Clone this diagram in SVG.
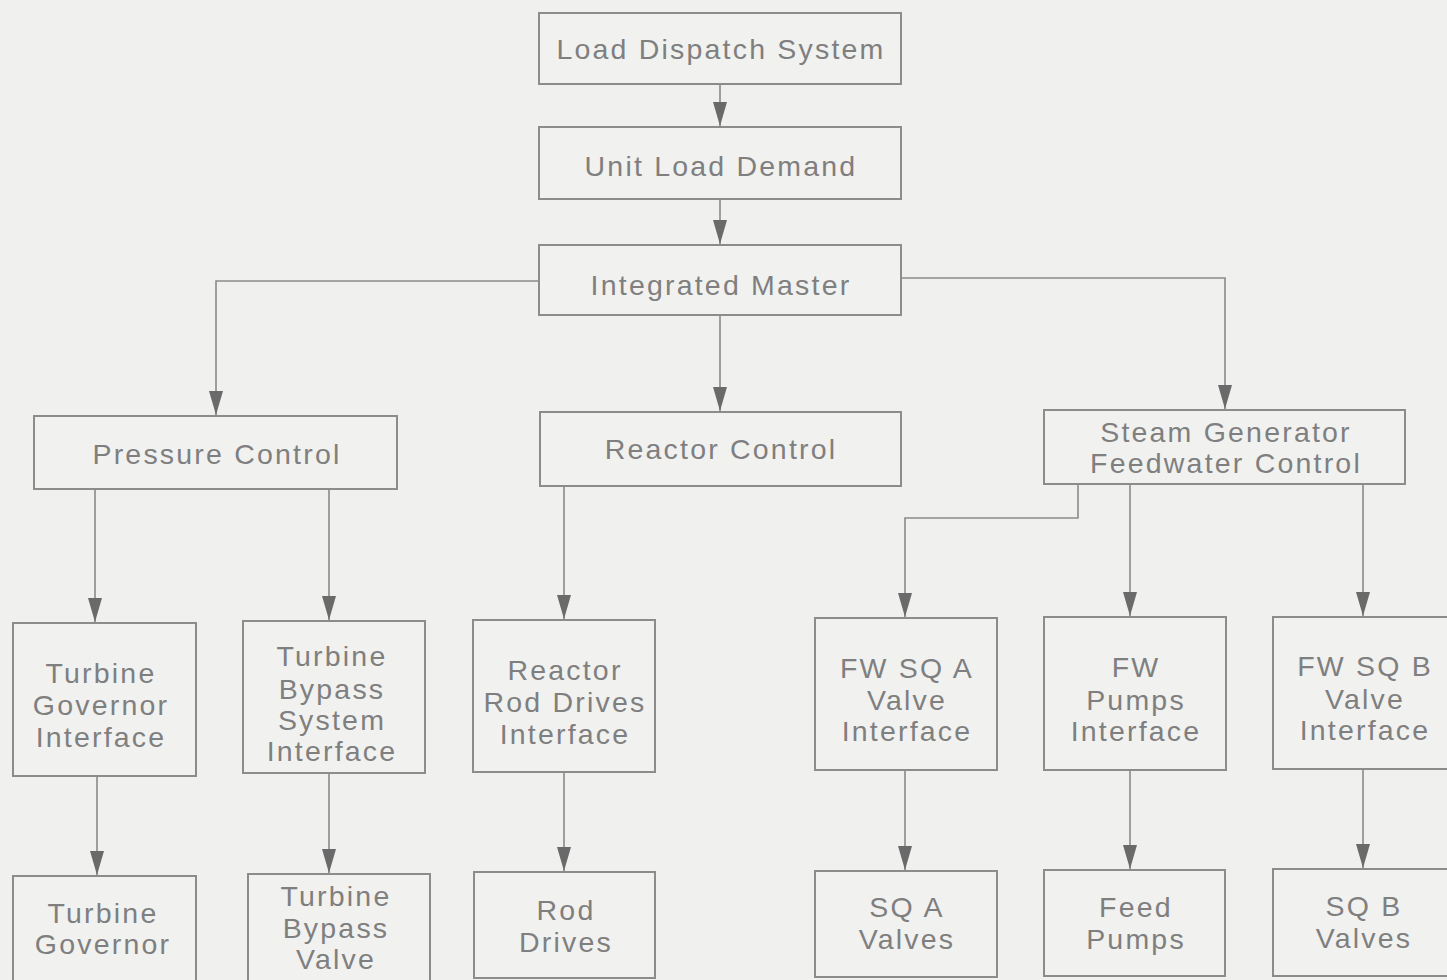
<svg xmlns="http://www.w3.org/2000/svg" width="1447" height="980" viewBox="0 0 1447 980">
<defs>
<style>
.box{fill:#f1f1f0;stroke:#8c8c8c;stroke-width:2}
.lbl{font-family:"Liberation Sans",Arial,sans-serif;font-size:28.5px;letter-spacing:2.2px;fill:#7f7f7f;text-anchor:middle}
.con{fill:none;stroke:#8a8a8a;stroke-width:1.6}
</style>
<marker id="ah" markerWidth="24" markerHeight="14" refX="24" refY="7" orient="auto" markerUnits="userSpaceOnUse" viewBox="0 0 24 14">
<path d="M0,0 L24,7 L0,14 Z" fill="#6a6a6a"/>
</marker>
</defs>
<rect width="1447" height="980" fill="#f0f0ef"/>
<g id="connectors">
<path class="con" d="M720,84 V126" marker-end="url(#ah)"/>
<path class="con" d="M720,199 V244" marker-end="url(#ah)"/>
<path class="con" d="M720,315 V411" marker-end="url(#ah)"/>
<path class="con" d="M539,281 H216 V415" marker-end="url(#ah)"/>
<path class="con" d="M901,278 H1225 V409" marker-end="url(#ah)"/>
<path class="con" d="M95,489 V622" marker-end="url(#ah)"/>
<path class="con" d="M329,489 V620" marker-end="url(#ah)"/>
<path class="con" d="M564,486 V619" marker-end="url(#ah)"/>
<path class="con" d="M1078,484 V518 H905 V617" marker-end="url(#ah)"/>
<path class="con" d="M1130,484 V616" marker-end="url(#ah)"/>
<path class="con" d="M1363,484 V616" marker-end="url(#ah)"/>
<path class="con" d="M97,776 V875" marker-end="url(#ah)"/>
<path class="con" d="M329,773 V873" marker-end="url(#ah)"/>
<path class="con" d="M564,772 V871" marker-end="url(#ah)"/>
<path class="con" d="M905,770 V870" marker-end="url(#ah)"/>
<path class="con" d="M1130,770 V869" marker-end="url(#ah)"/>
<path class="con" d="M1363,769 V868" marker-end="url(#ah)"/>
</g>
<g id="load-dispatch"><rect class="box" x="539" y="13" width="362" height="71"/><text class="lbl" x="721" y="59">Load Dispatch System</text></g>
<g id="unit-load-demand"><rect class="box" x="539" y="127" width="362" height="72"/><text class="lbl" x="721" y="176">Unit Load Demand</text></g>
<g id="integrated-master"><rect class="box" x="539" y="245" width="362" height="70"/><text class="lbl" x="721" y="295">Integrated Master</text></g>
<g id="pressure-control"><rect class="box" x="34" y="416" width="363" height="73"/><text class="lbl" x="217" y="464">Pressure Control</text></g>
<g id="reactor-control"><rect class="box" x="540" y="412" width="361" height="74"/><text class="lbl" x="721" y="459">Reactor Control</text></g>
<g id="sg-feedwater-control"><rect class="box" x="1044" y="410" width="361" height="74"/><text class="lbl" x="1226" y="442">Steam Generator</text><text class="lbl" x="1226" y="473">Feedwater Control</text></g>
<g id="turbine-governor-interface"><rect class="box" x="13" y="623" width="183" height="153"/><text class="lbl" x="101" y="683">Turbine</text><text class="lbl" x="101" y="715">Governor</text><text class="lbl" x="101" y="747">Interface</text></g>
<g id="turbine-bypass-interface"><rect class="box" x="243" y="621" width="182" height="152"/><text class="lbl" x="332" y="666">Turbine</text><text class="lbl" x="332" y="699">Bypass</text><text class="lbl" x="332" y="730">System</text><text class="lbl" x="332" y="761">Interface</text></g>
<g id="reactor-rod-drives-interface"><rect class="box" x="473" y="620" width="182" height="152"/><text class="lbl" x="565" y="680">Reactor</text><text class="lbl" x="565" y="712">Rod Drives</text><text class="lbl" x="565" y="744">Interface</text></g>
<g id="fw-sq-a-interface"><rect class="box" x="815" y="618" width="182" height="152"/><text class="lbl" x="907" y="678">FW SQ A</text><text class="lbl" x="907" y="710">Valve</text><text class="lbl" x="907" y="741">Interface</text></g>
<g id="fw-pumps-interface"><rect class="box" x="1044" y="617" width="182" height="153"/><text class="lbl" x="1136" y="677">FW</text><text class="lbl" x="1136" y="710">Pumps</text><text class="lbl" x="1136" y="741">Interface</text></g>
<g id="fw-sq-b-interface"><rect class="box" x="1273" y="617" width="182" height="152"/><text class="lbl" x="1365" y="676">FW SQ B</text><text class="lbl" x="1365" y="709">Valve</text><text class="lbl" x="1365" y="740">Interface</text></g>
<g id="turbine-governor"><rect class="box" x="13" y="876" width="183" height="110"/><text class="lbl" x="103" y="923">Turbine</text><text class="lbl" x="103" y="954">Governor</text></g>
<g id="turbine-bypass-valve"><rect class="box" x="248" y="874" width="182" height="112"/><text class="lbl" x="336" y="906">Turbine</text><text class="lbl" x="336" y="938">Bypass</text><text class="lbl" x="336" y="969">Valve</text></g>
<g id="rod-drives"><rect class="box" x="474" y="872" width="181" height="106"/><text class="lbl" x="566" y="920">Rod</text><text class="lbl" x="566" y="952">Drives</text></g>
<g id="sq-a-valves"><rect class="box" x="815" y="871" width="182" height="106"/><text class="lbl" x="907" y="917">SQ A</text><text class="lbl" x="907" y="949">Valves</text></g>
<g id="feed-pumps"><rect class="box" x="1044" y="870" width="181" height="106"/><text class="lbl" x="1136" y="917">Feed</text><text class="lbl" x="1136" y="949">Pumps</text></g>
<g id="sq-b-valves"><rect class="box" x="1273" y="869" width="182" height="107"/><text class="lbl" x="1364" y="916">SQ B</text><text class="lbl" x="1364" y="948">Valves</text></g>
</svg>
